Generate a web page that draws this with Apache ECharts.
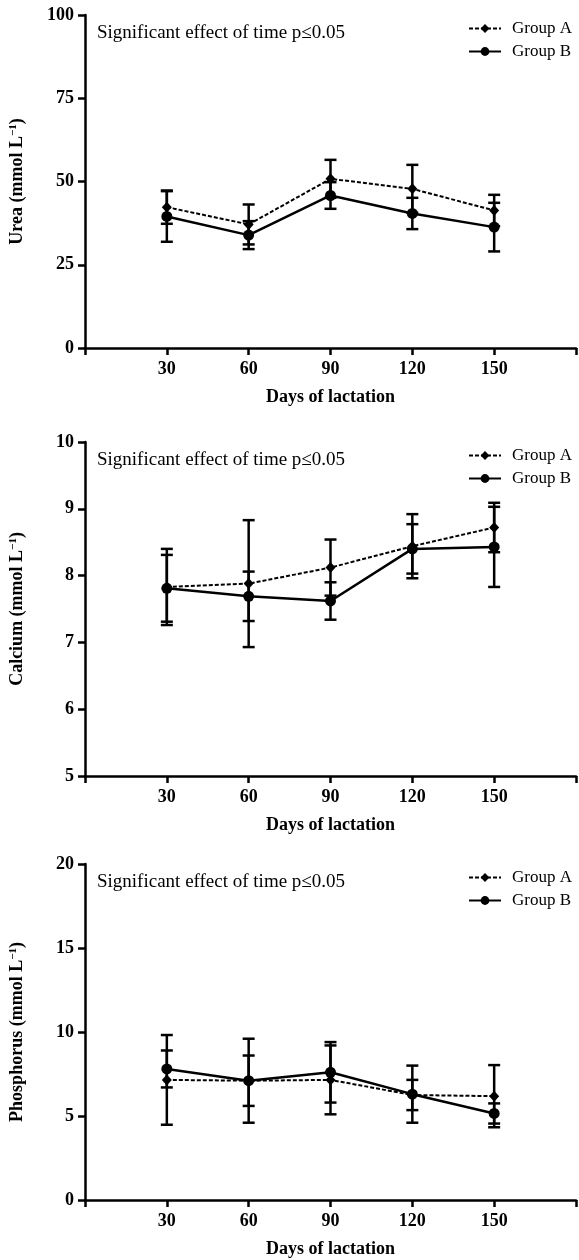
<!DOCTYPE html>
<html>
<head>
    <meta charset="utf-8">
    <title>Urea, calcium and phosphorus</title>
    <script src="https://cdn.jsdelivr.net/npm/echarts@6/dist/echarts.min.js"></script>
    <style>
        html, body { margin: 0; padding: 0; background: #ffffff; }
        #chart { width: 579px; height: 1260px; }
    </style>
</head>
<body>
<div id="chart"></div>
<script>
    // days of lactation
    var days = [30, 60, 90, 120, 150];

    // urea (mean, sd)
    var ureaA = [42.3, 37.1, 50.8, 47.8, 41.3];
    var ureaAsd = [5.0, 6.0, 5.7, 7.2, 4.7];
    var ureaB = [39.5, 33.9, 45.8, 40.4, 36.3];
    var ureaBsd = [7.6, 4.2, 4.0, 4.7, 7.3];

    // calcium (mean, sd)
    var calciumA = [7.83, 7.88, 8.12, 8.44, 8.72];
    var calciumAsd = [0.57, 0.95, 0.42, 0.48, 0.37];
    var calciumB = [7.81, 7.69, 7.62, 8.40, 8.43];
    var calciumBsd = [0.50, 0.37, 0.28, 0.37, 0.60];

    // phosphorus (mean, sd)
    var phosA = [7.15, 7.10, 7.15, 6.25, 6.18];
    var phosAsd = [2.67, 2.50, 2.05, 0.90, 1.85];
    var phosB = [7.80, 7.10, 7.60, 6.30, 5.15];
    var phosBsd = [1.10, 1.50, 1.80, 1.70, 0.60];

    var panels = [
        {name: 'Urea', min: 0, max: 100, step: 25, a: ureaA, asd: ureaAsd, b: ureaB, bsd: ureaBsd, top: 15, height: 333},
        {name: 'Calcium', min: 5, max: 10, step: 1, a: calciumA, asd: calciumAsd, b: calciumB, bsd: calciumBsd, top: 442, height: 334},
        {name: 'Phosphorus', min: 0, max: 20, step: 5, a: phosA, asd: phosAsd, b: phosB, bsd: phosBsd, top: 864, height: 336}
    ];

    var serif = '"Liberation Serif", "Times New Roman", serif';

    function pairs(mean) {
        return days.map(function (d, i) { return [d, mean[i]]; });
    }
    function bars(mean, sd) {
        return days.map(function (d, i) { return [d, mean[i] - sd[i], mean[i] + sd[i]]; });
    }

    // error bar with caps
    function renderBar(params, api) {
        var x = api.value(0);
        var lo = api.coord([x, api.value(1)]);
        var hi = api.coord([x, api.value(2)]);
        var w = 6;
        var st = {stroke: '#000', lineWidth: 2.5};
        return {
            type: 'group',
            children: [
                {type: 'line', shape: {x1: hi[0], y1: hi[1], x2: lo[0], y2: lo[1]}, style: st},
                {type: 'line', shape: {x1: hi[0] - w, y1: hi[1], x2: hi[0] + w, y2: hi[1]}, style: st},
                {type: 'line', shape: {x1: lo[0] - w, y1: lo[1], x2: lo[0] + w, y2: lo[1]}, style: st}
            ]
        };
    }

    var grids = [], xAxes = [], yAxes = [], series = [], legends = [], texts = [];

    panels.forEach(function (p, k) {
        grids.push({left: 80, right: 0, top: p.top, height: p.height});
        xAxes.push({
            type: 'value', gridIndex: k, min: 0, max: 180, interval: 30,
            name: 'Days of lactation', nameLocation: 'middle', nameGap: 40,
            nameTextStyle: {fontFamily: serif, fontSize: 18, fontWeight: 'bold', color: '#000'},
            axisLine: {show: true, lineStyle: {color: '#000', width: 2.5}},
            axisTick: {show: true, length: 7, lineStyle: {color: '#000', width: 2.5}},
            axisLabel: {
                margin: 12, fontFamily: serif, fontSize: 18, fontWeight: 'bold', color: '#000',
                formatter: function (v) { return (v === 0 || v === 180) ? '' : v; }
            },
            splitLine: {show: false}
        });
        yAxes.push({
            type: 'value', gridIndex: k, min: p.min, max: p.max, interval: p.step,
            name: p.name + ' (mmol L{sup|−1})', nameLocation: 'middle', nameGap: 58,
            nameTextStyle: {
                fontFamily: serif, fontSize: 18, fontWeight: 'bold', color: '#000',
                rich: {sup: {fontFamily: serif, fontSize: 11, fontWeight: 'bold', color: '#000', verticalAlign: 'top', padding: [0, 0, 8, 0]}}
            },
            axisLine: {show: true, lineStyle: {color: '#000', width: 2.5}},
            axisTick: {show: true, length: 7, lineStyle: {color: '#000', width: 2.5}},
            axisLabel: {margin: 11, fontFamily: serif, fontSize: 18, fontWeight: 'bold', color: '#000'},
            splitLine: {show: false}
        });

        series.push({
            name: 'Group B', type: 'line', xAxisIndex: k, yAxisIndex: k,
            data: pairs(p.b), symbol: 'circle', symbolSize: 11,
            itemStyle: {color: '#000'}, lineStyle: {color: '#000', width: 2.5}, z: 3
        });
        series.push({
            name: 'Group A', type: 'line', xAxisIndex: k, yAxisIndex: k,
            data: pairs(p.a), symbol: 'diamond', symbolSize: [10, 11],
            itemStyle: {color: '#000'}, lineStyle: {color: '#000', width: 2, type: [4, 2]}, z: 4
        });
        series.push({
            name: 'errA' + k, type: 'custom', xAxisIndex: k, yAxisIndex: k,
            data: bars(p.a, p.asd), renderItem: renderBar, encode: {x: 0, y: [1, 2]}, z: 2
        });
        series.push({
            name: 'errB' + k, type: 'custom', xAxisIndex: k, yAxisIndex: k,
            data: bars(p.b, p.bsd), renderItem: renderBar, encode: {x: 0, y: [1, 2]}, z: 2
        });

        legends.push({
            data: ['Group A', 'Group B'], orient: 'vertical', left: 463, top: p.top,
            itemWidth: 32, itemHeight: 11, itemGap: 6, selectedMode: false,
            textStyle: {fontFamily: serif, fontSize: 17, color: '#000', padding: [0, 0, 0, 6]}
        });
        texts.push({
            type: 'text', left: 97, top: p.top + 9,
            style: {text: 'Significant effect of time p≤0.05', fill: '#000', font: '19px ' + serif}
        });
    });

    var chart = echarts.init(document.getElementById('chart'));
    chart.setOption({
        animation: false,
        grid: grids,
        xAxis: xAxes,
        yAxis: yAxes,
        legend: legends,
        graphic: texts,
        series: series
    });
</script>
</body>
</html>
